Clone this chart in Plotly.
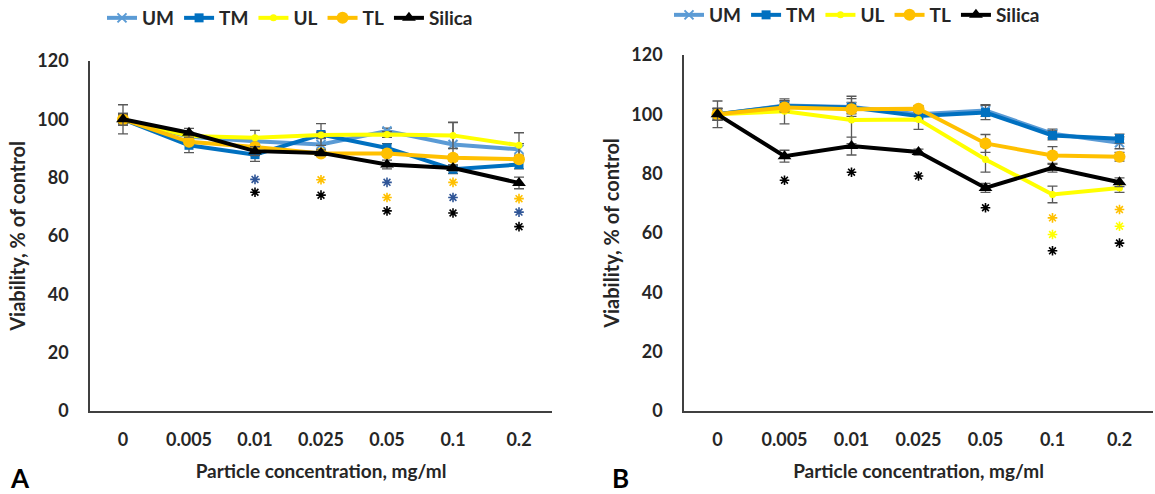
import plotly.graph_objects as go

categories = ["0", "0.005", "0.01", "0.025", "0.05", "0.1", "0.2"]
series_names = ["UM", "TM", "UL", "TL", "Silica"]

# Panel A values
a_UM = [100, 94.0, 92.5, 91.4, 96.0, 91.4, 89.7]
a_TM = [100, 91.1, 87.9, 94.8, 90.2, 82.9, 84.5]
a_UL = [100, 94.3, 93.7, 94.6, 94.8, 94.5, 91.1]
a_TL = [100, 92.3, 90.5, 88.3, 88.3, 86.8, 86.3]
a_Si = [100, 95.4, 89.1, 88.5, 84.5, 83.3, 78.2]
a_UM_err = [2.0, 1.5, 1.5, 2.0, 1.0, 7.5, 2.0]
a_TM_err = [5.0, 2.5, 2.3, 3.7, 1.5, 1.5, 1.5]
a_UL_err = [1.5, 1.0, 2.5, 1.0, 1.0, 4.5, 4.3]
a_TL_err = [1.5, 1.0, 1.0, 1.0, 1.0, 1.0, 1.0]
a_Si_err = [2.0, 1.5, 1.5, 1.0, 1.5, 1.0, 2.0]

# Panel B values
b_UM = [100, 103.0, 102.5, 100.0, 101.3, 93.5, 90.4]
b_TM = [100, 102.8, 102.3, 99.4, 100.6, 92.9, 91.8]
b_UL = [100, 101.0, 98.1, 98.3, 84.8, 73.0, 75.2]
b_TL = [100, 102.3, 101.7, 101.9, 90.2, 86.1, 85.7]
b_Si = [100, 85.9, 89.3, 87.3, 75.2, 82.0, 77.1]
b_UM_err = [2.0, 1.5, 1.5, 1.5, 2.0, 1.5, 2.0]
b_TM_err = [4.5, 1.8, 3.0, 1.5, 2.4, 1.5, 1.5]
b_UL_err = [2.0, 4.2, 8.0, 3.4, 4.3, 2.8, 1.5]
b_TL_err = [1.5, 1.5, 1.5, 1.0, 3.0, 3.0, 1.5]
b_Si_err = [2.0, 2.0, 3.0, 1.0, 1.5, 1.5, 1.5]

# Significance asterisks (category, y, colour group)
a_star_x = ["0.01", "0.01", "0.025", "0.025", "0.05", "0.05", "0.05",
            "0.1", "0.1", "0.1", "0.2", "0.2", "0.2"]
a_star_y = [79.4, 75.0, 79.3, 74.0, 78.4, 73.2, 68.6, 78.4, 73.2, 67.9, 72.8, 68.2, 63.2]
a_star_c = ["TM", "Silica", "TL", "Silica", "TM", "TL", "Silica",
            "TL", "TM", "Silica", "TL", "TM", "Silica"]
b_star_x = ["0.005", "0.01", "0.025", "0.05", "0.1", "0.1", "0.1", "0.2", "0.2", "0.2"]
b_star_y = [77.8, 80.5, 79.2, 68.5, 65.1, 59.5, 54.0, 67.9, 62.3, 56.6]
b_star_c = ["Silica", "Silica", "Silica", "Silica", "TL", "UL", "Silica", "TL", "UL", "Silica"]

y_ticks = [0, 20, 40, 60, 80, 100, 120]

colors = {"UM": "#5B9BD5", "TM": "#0070C0", "UL": "#FFFF00", "TL": "#FFC000", "Silica": "#000000"}
star_colors = {"TM": "#2F5597", "TL": "#FFC000", "UL": "#FFFF00", "Silica": "#000000"}
markers = {
    "UM": dict(symbol="x-thin", size=9, line=dict(width=2, color="#5B9BD5")),
    "TM": dict(symbol="square", size=9),
    "UL": dict(symbol="circle", size=7),
    "TL": dict(symbol="circle", size=12),
    "Silica": dict(symbol="triangle-up", size=12),
}

FONT = "Lato, Calibri, Liberation Sans, sans-serif"
TXT = "#262626"

fig = go.Figure()

def add_panel(vals, errs, xa, ya, legend):
    for name, v, e in zip(series_names, vals, errs):
        mk = dict(markers[name])
        mk["color"] = colors[name]
        fig.add_trace(go.Scatter(
            x=categories, y=v, name=name, mode="lines+markers",
            line=dict(color=colors[name], width=4),
            marker=mk,
            error_y=dict(type="data", array=e, visible=True, color="#595959", thickness=1.3, width=5),
            xaxis=xa, yaxis=ya, legend=legend,
        ))

def add_stars(sx, sy, sc, xa, ya):
    cols = [star_colors[c] for c in sc]
    fig.add_trace(go.Scatter(
        x=sx, y=sy, mode="markers",
        marker=dict(symbol="asterisk-open", size=8, color=cols,
                    line=dict(width=1.6, color=cols)),
        showlegend=False, hoverinfo="skip",
        xaxis=xa, yaxis=ya,
    ))

add_panel([a_UM, a_TM, a_UL, a_TL, a_Si], [a_UM_err, a_TM_err, a_UL_err, a_TL_err, a_Si_err], "x", "y", "legend")
add_panel([b_UM, b_TM, b_UL, b_TL, b_Si], [b_UM_err, b_TM_err, b_UL_err, b_TL_err, b_Si_err], "x2", "y2", "legend2")
add_stars(a_star_x, a_star_y, a_star_c, "x", "y")
add_stars(b_star_x, b_star_y, b_star_c, "x2", "y2")

W, H = 1155, 494
axis_common = dict(showline=True, linecolor="#404040", linewidth=1.5, showgrid=False, zeroline=False,
                   tickfont=dict(family=FONT, size=18, color=TXT, weight="bold"), ticks="",
                   automargin=False)
xcommon = dict(axis_common, type="category", range=[-0.5, 6.5], categoryorder="array", categoryarray=categories,
               ticklabelstandoff=12,
               title=dict(text="Particle concentration, mg/ml", font=dict(family=FONT, size=19, color=TXT, weight="bold"), standoff=15))
ycommon = dict(axis_common, range=[0, 120], tickvals=y_ticks, ticklabelstandoff=16,
               title=dict(text="Viability, % of control", font=dict(family=FONT, size=20, color=TXT, weight="bold"), standoff=6))

legend_font = dict(family=FONT, size=19, color=TXT, weight="bold")
fig.update_layout(
    width=W, height=H, plot_bgcolor="white", paper_bgcolor="white",
    margin=dict(l=0, r=0, t=0, b=0, autoexpand=False),
    xaxis=dict(xcommon, domain=[90 / W, 552 / W], anchor="y"),
    yaxis=dict(ycommon, domain=[1 - 411 / H, 1 - 61 / H], anchor="x"),
    xaxis2=dict(xcommon, domain=[684 / W, 1153 / W], anchor="y2"),
    yaxis2=dict(ycommon, domain=[1 - 411 / H, 1 - 55 / H], anchor="x2"),
    legend=dict(orientation="h", xref="container", yref="container", x=290 / W, xanchor="center",
                y=1 - 18 / H, yanchor="middle", font=legend_font, itemwidth=30, bgcolor="rgba(0,0,0,0)"),
    legend2=dict(orientation="h", xref="container", yref="container", x=857 / W, xanchor="center",
                 y=1 - 15 / H, yanchor="middle", font=legend_font, itemwidth=30, bgcolor="rgba(0,0,0,0)"),
    annotations=[
        dict(text="A", x=20 / W, y=1 - 478 / H, xref="paper", yref="paper", showarrow=False,
             font=dict(family=FONT, size=26, color="#000000", weight="bold"), xanchor="center", yanchor="middle"),
        dict(text="B", x=620 / W, y=1 - 478 / H, xref="paper", yref="paper", showarrow=False,
             font=dict(family=FONT, size=26, color="#000000", weight="bold"), xanchor="center", yanchor="middle"),
    ],
)

fig.write_html("out.html", config={"displayModeBar": False},
               post_script="document.body.style.margin='0';document.body.style.overflow='hidden';")
